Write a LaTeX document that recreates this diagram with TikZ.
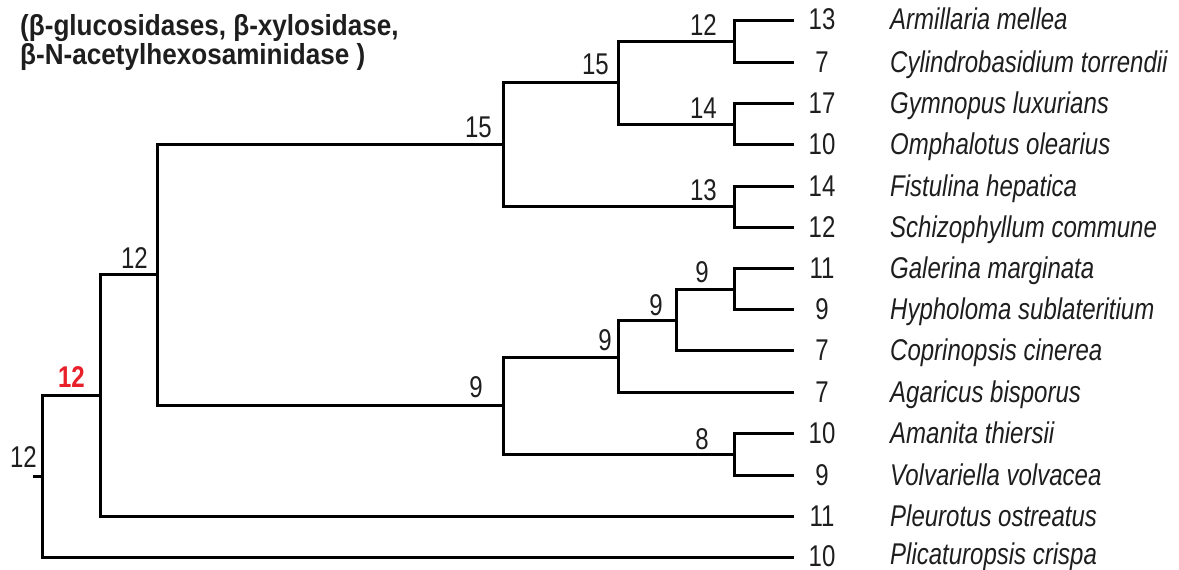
\documentclass[tikz,border=0pt]{standalone}
\usepackage{fontspec}
\setmainfont{Liberation Sans}
\newfontfamily\narfont{Liberation Sans}[FakeStretch=0.8]
\newfontfamily\ttlfont{Liberation Sans}[FakeStretch=0.9]
\definecolor{nodered}{RGB}{232,32,42}
\definecolor{ink}{RGB}{30,30,30}
\begin{document}
\begin{tikzpicture}[x=1pt,y=-1pt,
  branch/.style={line width=3pt, draw=black, line cap=rect},
  lab/.style={inner sep=0pt, anchor=base east, text=ink, font=\narfont\fontsize{30}{36}\selectfont},
  leafnum/.style={inner sep=0pt, anchor=base, text=ink, font=\narfont\fontsize{30}{36}\selectfont},
  species/.style={inner sep=0pt, anchor=base west, text=ink, font=\narfont\itshape\fontsize{30}{36}\selectfont},
  ttl/.style={inner sep=0pt, anchor=base west, text=ink, font=\ttlfont\bfseries\fontsize{29}{34}\selectfont}
]
\useasboundingbox (0,0) rectangle (1179,570);
% leaves
\coordinate (L1) at (792,20);
\coordinate (L2) at (792,62);
\coordinate (L3) at (792,103);
\coordinate (L4) at (792,144);
\coordinate (L5) at (792,186);
\coordinate (L6) at (792,227);
\coordinate (L7) at (792,268);
\coordinate (L8) at (792,309);
\coordinate (L9) at (792,350);
\coordinate (L10) at (792,392);
\coordinate (L11) at (792,433);
\coordinate (L12) at (792,475);
\coordinate (L13) at (792,516);
\coordinate (L14) at (792,557);
% internal nodes
\coordinate (n12a) at (734,41);
\coordinate (n14) at (734,124);
\coordinate (n15a) at (618,82);
\coordinate (n13) at (734,206);
\coordinate (n15b) at (503,144);
\coordinate (n9a) at (734,289);
\coordinate (n9b) at (676,320);
\coordinate (n9c) at (618,357);
\coordinate (n8) at (734,454);
\coordinate (n9d) at (503,405);
\coordinate (n12b) at (157,274);
\coordinate (n12r) at (100,395);
\coordinate (root) at (42,476);
\coordinate (stub) at (34,476);
% branches
\draw[branch] (n12a) |- (L1); \draw[branch] (n12a) |- (L2);
\draw[branch] (n14) |- (L3); \draw[branch] (n14) |- (L4);
\draw[branch] (n15a) |- (n12a); \draw[branch] (n15a) |- (n14);
\draw[branch] (n13) |- (L5); \draw[branch] (n13) |- (L6);
\draw[branch] (n15b) |- (n15a); \draw[branch] (n15b) |- (n13);
\draw[branch] (n9a) |- (L7); \draw[branch] (n9a) |- (L8);
\draw[branch] (n9b) |- (n9a); \draw[branch] (n9b) |- (L9);
\draw[branch] (n9c) |- (n9b); \draw[branch] (n9c) |- (L10);
\draw[branch] (n8) |- (L11); \draw[branch] (n8) |- (L12);
\draw[branch] (n9d) |- (n9c); \draw[branch] (n9d) |- (n8);
\draw[branch] (n12b) |- (n15b); \draw[branch] (n12b) |- (n9d);
\draw[branch] (n12r) |- (n12b); \draw[branch] (n12r) |- (L13);
\draw[branch] (root) |- (n12r); \draw[branch] (root) |- (L14);
\draw[branch] (stub) -- (root);
% internal labels
\node[lab] (t12a) at ([shift={(-17,-6)}]n12a) {12};
\node[lab] (t15a) at ([shift={(-9,-8)}]n15a) {15};
\node[lab] (t14) at ([shift={(-17,-6)}]n14) {14};
\node[lab] (t13) at ([shift={(-17,-6)}]n13) {13};
\node[lab] (t15b) at ([shift={(-11,-7)}]n15b) {15};
\node[lab] (t9a) at ([shift={(-25,-7)}]n9a) {9};
\node[lab] (t9b) at ([shift={(-13,-5)}]n9b) {9};
\node[lab] (t9c) at ([shift={(-6,-7)}]n9c) {9};
\node[lab] (t9d) at ([shift={(-20,-8)}]n9d) {9};
\node[lab] (t8) at ([shift={(-25,-5)}]n8) {8};
\node[lab] (t12b) at ([shift={(-9,-6)}]n12b) {12};
\node[lab, text=nodered, font=\narfont\bfseries\fontsize{30}{36}\selectfont] (t12r) at ([shift={(-15,-8)}]n12r) {12};
\node[lab] (troot) at ([shift={(-5,-9)}]root) {12};
% leaf numbers
\node[leafnum] (v1) at ([shift={(30,10)}]L1) {13};
\node[leafnum] (v2) at ([shift={(30,10)}]L2) {7};
\node[leafnum] (v3) at ([shift={(30,10)}]L3) {17};
\node[leafnum] (v4) at ([shift={(30,10)}]L4) {10};
\node[leafnum] (v5) at ([shift={(30,10)}]L5) {14};
\node[leafnum] (v6) at ([shift={(30,10)}]L6) {12};
\node[leafnum] (v7) at ([shift={(30,10)}]L7) {11};
\node[leafnum] (v8) at ([shift={(30,10)}]L8) {9};
\node[leafnum] (v9) at ([shift={(30,10)}]L9) {7};
\node[leafnum] (v10) at ([shift={(30,10)}]L10) {7};
\node[leafnum] (v11) at ([shift={(30,10)}]L11) {10};
\node[leafnum] (v12) at ([shift={(30,10)}]L12) {9};
\node[leafnum] (v13) at ([shift={(30,10)}]L13) {11};
\node[leafnum] (v14) at ([shift={(30,9)}]L14) {10};
% species
\node[species] (s1) at ([shift={(98,10)}]L1) {Armillaria mellea};
\node[species] (s2) at ([shift={(98,10)}]L2) {Cylindrobasidium torrendii};
\node[species] (s3) at ([shift={(98,10)}]L3) {Gymnopus luxurians};
\node[species] (s4) at ([shift={(98,10)}]L4) {Omphalotus olearius};
\node[species] (s5) at ([shift={(98,10)}]L5) {Fistulina hepatica};
\node[species] (s6) at ([shift={(98,10)}]L6) {Schizophyllum commune};
\node[species] (s7) at ([shift={(98,10)}]L7) {Galerina marginata};
\node[species] (s8) at ([shift={(98,10)}]L8) {Hypholoma sublateritium};
\node[species] (s9) at ([shift={(98,10)}]L9) {Coprinopsis cinerea};
\node[species] (s10) at ([shift={(98,10)}]L10) {Agaricus bisporus};
\node[species] (s11) at ([shift={(98,10)}]L11) {Amanita thiersii};
\node[species] (s12) at ([shift={(98,10)}]L12) {Volvariella volvacea};
\node[species] (s13) at ([shift={(98,10)}]L13) {Pleurotus ostreatus};
\node[species] (s14) at ([shift={(98,7)}]L14) {Plicaturopsis crispa};
% title
\node[ttl] (title1) at (20,35) {(β-glucosidases, β-xylosidase,};
\node[ttl] (title2) at (20,64) {β-N-acetylhexosaminidase )};
\end{tikzpicture}
\end{document}
